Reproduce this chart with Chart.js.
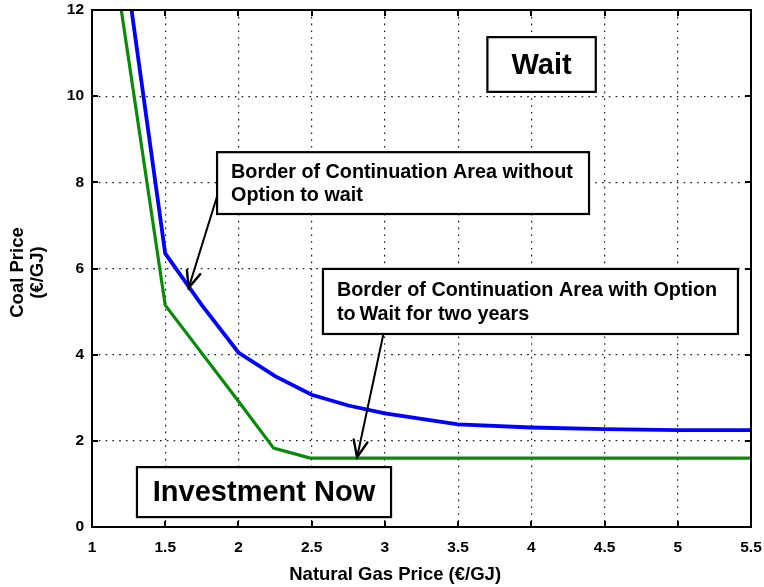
<!DOCTYPE html>
<html>
<head>
<meta charset="utf-8">
<title>Coal vs natural gas price – continuation area borders</title>
<script src="https://cdn.jsdelivr.net/npm/chart.js@4.4.1/dist/chart.umd.min.js"></script>
<style>
  html, body { margin: 0; padding: 0; background: #ffffff; }
  #wrap { width: 764px; height: 587px; }
</style>
</head>
<body>
<div id="wrap"><canvas id="chart" width="764" height="587"></canvas></div>
<script>
// Border without the option to wait (natural gas price €/GJ -> coal price €/GJ)
const gasNoWait  = [1.27, 1.5, 1.75, 2.0, 2.25, 2.5, 2.75, 3.0, 3.5, 4.0, 4.5, 5.0, 5.5];
const coalNoWait = [12.0, 6.35, 5.15, 4.05, 3.50, 3.07, 2.82, 2.64, 2.38, 2.31, 2.27, 2.25, 2.25];

// Border with the option to wait for two years
const gasWait  = [1.20, 1.5, 2.0, 2.24, 2.49, 3.0, 4.0, 5.5];
const coalWait = [12.0, 5.15, 2.92, 1.83, 1.60, 1.60, 1.60, 1.60];

// Axis ranges and tick steps
const xTicks = { min: 1, max: 5.5, step: 0.5 };
const yTicks = { min: 0, max: 12, step: 2 };

const xTitle = 'Natural Gas Price (€/GJ)';
const yTitle = ['Coal Price', '(€/GJ)'];

// Region labels and callouts, anchored in data coordinates
const regionLabels = [
  { text: ['Wait'], x0: 3.70, x1: 4.44, y0: 11.37, y1: 10.10, size: 29, align: 'center' },
  { text: ['Investment Now'], x0: 1.307, x1: 3.042, y0: 1.39, y1: 0.23, size: 29, align: 'center' },
  { text: ['Border of Continuation Area without', 'Option to wait'],
    x0: 1.854, x1: 4.394, y0: 8.70, y1: 7.265, size: 19.8, align: 'left' },
  { text: ['Border of Continuation Area with Option', 'to\u2009Wait for two years'],
    x0: 2.577, x1: 5.411, y0: 5.99, y1: 4.48, size: 19.8, align: 'left' }
];
const callouts = [
  { from: [1.874, 7.89], to: [1.66, 5.55] },
  { from: [2.99, 4.48], to: [2.81, 1.62] }
];

const FONT = '"Liberation Sans", Arial, Helvetica, sans-serif';

function points(xs, ys) {
  return xs.map((x, i) => ({ x: x, y: ys[i] }));
}

const edgeAware = (lo, hi) => (ctx) => {
  const v = ctx.tick ? ctx.tick.value : null;
  return (v === lo || v === hi) ? 'rgba(0,0,0,0)' : '#1a1a1a';
};

// Frame, inward tick marks, axis titles, boxes and arrows
const decorations = {
  id: 'decorations',
  afterDatasetsDraw(chart) {
    const { ctx, chartArea: a, scales: { x, y } } = chart;
    ctx.save();

    // inward tick marks on all four sides
    ctx.strokeStyle = '#000';
    ctx.lineWidth = 2;
    const tl = 6;
    for (let v = xTicks.min + xTicks.step; v < xTicks.max - 1e-9; v += xTicks.step) {
      const px = Math.round(x.getPixelForValue(v));
      ctx.beginPath();
      ctx.moveTo(px, a.bottom); ctx.lineTo(px, a.bottom - tl);
      ctx.moveTo(px, a.top); ctx.lineTo(px, a.top + tl);
      ctx.stroke();
    }
    for (let v = yTicks.min + yTicks.step; v < yTicks.max - 1e-9; v += yTicks.step) {
      const py = Math.round(y.getPixelForValue(v));
      ctx.beginPath();
      ctx.moveTo(a.left, py); ctx.lineTo(a.left + tl, py);
      ctx.moveTo(a.right, py); ctx.lineTo(a.right - tl, py);
      ctx.stroke();
    }

    // frame
    ctx.lineWidth = 2;
    ctx.strokeRect(a.left, a.top, a.right - a.left, a.bottom - a.top);

    // callout arrows
    ctx.lineWidth = 2;
    ctx.lineCap = 'round';
    callouts.forEach(c => {
      const x1 = x.getPixelForValue(c.from[0]), y1 = y.getPixelForValue(c.from[1]);
      const x2 = x.getPixelForValue(c.to[0]), y2 = y.getPixelForValue(c.to[1]);
      ctx.beginPath();
      ctx.moveTo(x1, y1); ctx.lineTo(x2, y2);
      ctx.stroke();
      const ang = Math.atan2(y2 - y1, x2 - x1);
      const hl = 18, spread = 0.40;
      ctx.lineWidth = 2.4;
      ctx.beginPath();
      ctx.moveTo(x2 - hl * Math.cos(ang - spread), y2 - hl * Math.sin(ang - spread));
      ctx.lineTo(x2, y2);
      ctx.lineTo(x2 - hl * Math.cos(ang + spread), y2 - hl * Math.sin(ang + spread));
      ctx.stroke();
      ctx.lineWidth = 2;
    });

    // labelled boxes
    regionLabels.forEach(b => {
      const left = x.getPixelForValue(b.x0), right = x.getPixelForValue(b.x1);
      const top = y.getPixelForValue(b.y0), bottom = y.getPixelForValue(b.y1);
      ctx.fillStyle = '#fff';
      ctx.fillRect(left, top, right - left, bottom - top);
      ctx.strokeStyle = '#000';
      ctx.lineWidth = 2.2;
      ctx.strokeRect(left, top, right - left, bottom - top);
      ctx.fillStyle = '#000';
      ctx.font = 'bold ' + b.size + 'px ' + FONT;
      ctx.textBaseline = 'middle';
      const lh = b.size * 1.18;
      const cy = (top + bottom) / 2 - (b.text.length - 1) * lh / 2;
      b.text.forEach((t, i) => {
        if (b.align === 'center') {
          ctx.textAlign = 'center';
          ctx.fillText(t, (left + right) / 2, cy + i * lh + 1);
        } else {
          ctx.textAlign = 'left';
          ctx.fillText(t, left + 14, cy + i * lh + 1);
        }
      });
    });

    // axis titles
    ctx.fillStyle = '#000';
    ctx.font = 'bold 18.5px ' + FONT;
    ctx.textAlign = 'center';
    ctx.textBaseline = 'alphabetic';
    ctx.fillText(xTitle, x.getPixelForValue(3.07), 580);

    ctx.translate(0, y.getPixelForValue(6.0) + 4);
    ctx.rotate(-Math.PI / 2);
    ctx.fillText(yTitle[0], 0, 23);
    ctx.fillText(yTitle[1], 0, 43);
    ctx.restore();
  }
};

const chart = new Chart(document.getElementById('chart'), {
  type: 'line',
  data: {
    datasets: [
      {
        label: 'Without option to wait',
        data: points(gasNoWait, coalNoWait),
        borderColor: '#0000ff',
        borderWidth: 3.8,
        pointRadius: 0,
        tension: 0,
        fill: false
      },
      {
        label: 'With option to wait two years',
        data: points(gasWait, coalWait),
        borderColor: '#0a8a0a',
        borderWidth: 3.2,
        pointRadius: 0,
        tension: 0,
        fill: false
      }
    ]
  },
  options: {
    responsive: false,
    devicePixelRatio: 1,
    animation: false,
    events: [],
    layout: { padding: { top: 10, right: 13, left: 0, bottom: 0 } },
    plugins: { legend: { display: false }, tooltip: { enabled: false } },
    scales: {
      x: {
        type: 'linear',
        min: xTicks.min,
        max: xTicks.max,
        ticks: {
          stepSize: xTicks.step,
          color: '#000',
          font: { family: FONT, size: 15.5, weight: 'bold' },
          padding: 11,
          maxRotation: 0,
          autoSkip: false,
          callback: (v) => String(Math.round(v * 10) / 10)
        },
        grid: { color: edgeAware(xTicks.min, xTicks.max), lineWidth: 1.2, drawTicks: false },
        border: { display: false, dash: [1.6, 5.2] },
        afterFit(scale) {
          scale.height = 60;
          scale.paddingLeft = 0; scale.paddingRight = 0;
        }
      },
      y: {
        type: 'linear',
        min: yTicks.min,
        max: yTicks.max,
        ticks: {
          stepSize: yTicks.step,
          color: '#000',
          font: { family: FONT, size: 15.5, weight: 'bold' },
          padding: 8,
          autoSkip: false,
          callback: (v) => String(v)
        },
        grid: { color: edgeAware(yTicks.min, yTicks.max), lineWidth: 1.2, drawTicks: false },
        border: { display: false, dash: [1.6, 5.2] },
        afterFit(scale) {
          scale.width = 92;
          scale.paddingTop = 0; scale.paddingBottom = 0;
        }
      }
    }
  },
  plugins: [decorations]
});
</script>
</body>
</html>
